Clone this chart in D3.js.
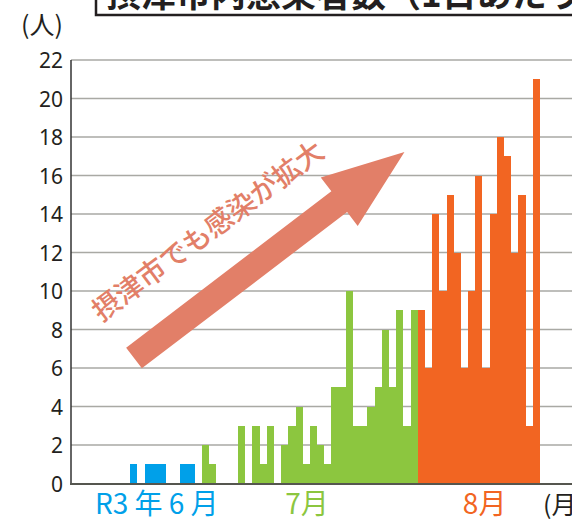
<!DOCTYPE html>
<html lang="ja">
<head>
  <meta charset="UTF-8">
  <title>摂津市内感染者数</title>
  <script src="https://d3js.org/d3.v7.min.js"></script>
  <style>
    body { margin: 0; background: #fff; }
    svg { display: block; }
    .tick-label { font-family: "Noto Sans", "DejaVu Sans", sans-serif; font-size: 21px; fill: #231f20; }
    .jp { font-family: "Noto Sans CJK JP", sans-serif; }
  </style>
</head>
<body>
  <svg id="chart" width="572" height="520"></svg>

  <script>
    // daily cases, one value per day (R3: 6/14 - 8/17)
    const juneCases = [0, 0, 0, 0, 0, 0, 0, 0, 1, 0, 1, 1, 1, 0, 0, 1, 1];
    const julyCases = [0, 2, 1, 0, 0, 0, 3, 0, 3, 1, 3, 0, 2, 3, 4, 1, 3, 2, 1, 5, 5, 10, 3, 3, 4, 5, 8, 5, 9, 3, 9];
    const augCases = [9, 6, 14, 10, 15, 12, 6, 10, 16, 6, 14, 18, 17, 12, 15, 3, 21];

    const monthLabels = ["R3 年 6 月", "7月", "8月"];
    const monthColors = ["#00a0e9", "#8cc63f", "#f26522"];
    const yTicks = [0, 2, 4, 6, 8, 10, 12, 14, 16, 18, 20, 22];

    const titleText = "摂津市内感染者数（1日あたり）";
    const arrowText = "摂津市でも感染が拡大";

    // flatten to one row per day
    const days = [];
    [juneCases, julyCases, augCases].forEach((arr, m) => {
      arr.forEach(v => days.push({ i: days.length, month: m, value: v }));
    });

    const svg = d3.select("#chart");

    const x = d3.scaleBand()
      .domain(days.map(d => d.i))
      .range([72.6, 540])
      .paddingInner(0)
      .paddingOuter(0);

    const y = d3.scaleLinear()
      .domain([0, 22])
      .range([483.5, 60]);

    // gridlines
    svg.append("g")
      .selectAll("line")
      .data(yTicks.filter(t => t > 0))
      .join("line")
      .attr("x1", 71)
      .attr("x2", 572)
      .attr("y1", d => y(d))
      .attr("y2", d => y(d))
      .attr("stroke", "#a9a9a4")
      .attr("stroke-width", 1.6);

    // y axis labels
    svg.append("g")
      .selectAll("text")
      .data(yTicks)
      .join("text")
      .attr("class", "tick-label")
      .attr("x", 63)
      .attr("y", d => y(d) + 8)
      .attr("text-anchor", "end")
      .text(d => d);

    // bars
    svg.append("g")
      .selectAll("rect")
      .data(days.filter(d => d.value > 0))
      .join("rect")
      .attr("x", d => x(d.i))
      .attr("y", d => y(d.value))
      .attr("width", x.bandwidth())
      .attr("height", d => y(0) - y(d.value))
      .attr("fill", d => monthColors[d.month])
      .attr("shape-rendering", "crispEdges");

    // axes lines
    svg.append("line")
      .attr("x1", 71).attr("x2", 71)
      .attr("y1", 60).attr("y2", y(0))
      .attr("stroke", "#333").attr("stroke-width", 1.5);

    svg.append("line")
      .attr("x1", 70).attr("x2", 572)
      .attr("y1", y(0) + 0.5).attr("y2", y(0) + 0.5)
      .attr("stroke", "#55564f").attr("stroke-width", 2);

    // unit label
    svg.append("text")
      .attr("class", "jp")
      .attr("x", 21).attr("y", 34)
      .attr("font-size", 25)
      .attr("fill", "#231f20")
      .text("(人)");

    // month labels (centre day index for each label)
    const labelCenter = [11.7, 32.6, 57.3];
    svg.append("g")
      .selectAll("text")
      .data(monthLabels)
      .join("text")
      .attr("class", "jp")
      .attr("x", (d, m) => x(0) + labelCenter[m] * x.step())
      .attr("y", 514)
      .attr("text-anchor", "middle")
      .attr("font-size", 28)
      .attr("fill", (d, m) => monthColors[m])
      .text(d => d);

    svg.append("text")
      .attr("class", "jp")
      .attr("x", 543).attr("y", 514)
      .attr("font-size", 25)
      .attr("fill", "#231f20")
      .text("(月)");

    // title box, cut off at the top
    svg.append("rect")
      .attr("x", 96).attr("y", -30)
      .attr("width", 520).attr("height", 45)
      .attr("fill", "#fff")
      .attr("stroke", "#231f20")
      .attr("stroke-width", 2.5);

    svg.append("text")
      .attr("class", "jp")
      .attr("x", 106).attr("y", 7)
      .attr("font-size", 35)
      .attr("font-weight", "bold")
      .attr("fill", "#231f20")
      .text(titleText);

    // trend arrow
    const arrowColor = "#e27f68";
    const len = 340, shaft = 26, head = 61, headLen = 82;
    const arrowPath = d3.path();
    arrowPath.moveTo(0, -shaft / 2);
    arrowPath.lineTo(len - headLen, -shaft / 2);
    arrowPath.lineTo(len - headLen, -head / 2);
    arrowPath.lineTo(len, 0);
    arrowPath.lineTo(len - headLen, head / 2);
    arrowPath.lineTo(len - headLen, shaft / 2);
    arrowPath.lineTo(0, shaft / 2);
    arrowPath.closePath();

    svg.append("path")
      .attr("d", arrowPath.toString())
      .attr("transform", "translate(134,358) rotate(-37.3)")
      .attr("fill", arrowColor);

    svg.append("text")
      .attr("class", "jp")
      .attr("transform", "translate(208,231) rotate(-36.7)")
      .attr("text-anchor", "middle")
      .attr("dy", "0.35em")
      .attr("font-size", 28)
      .attr("font-weight", 500)
      .attr("fill", arrowColor)
      .text(arrowText);
  </script>
</body>
</html>
